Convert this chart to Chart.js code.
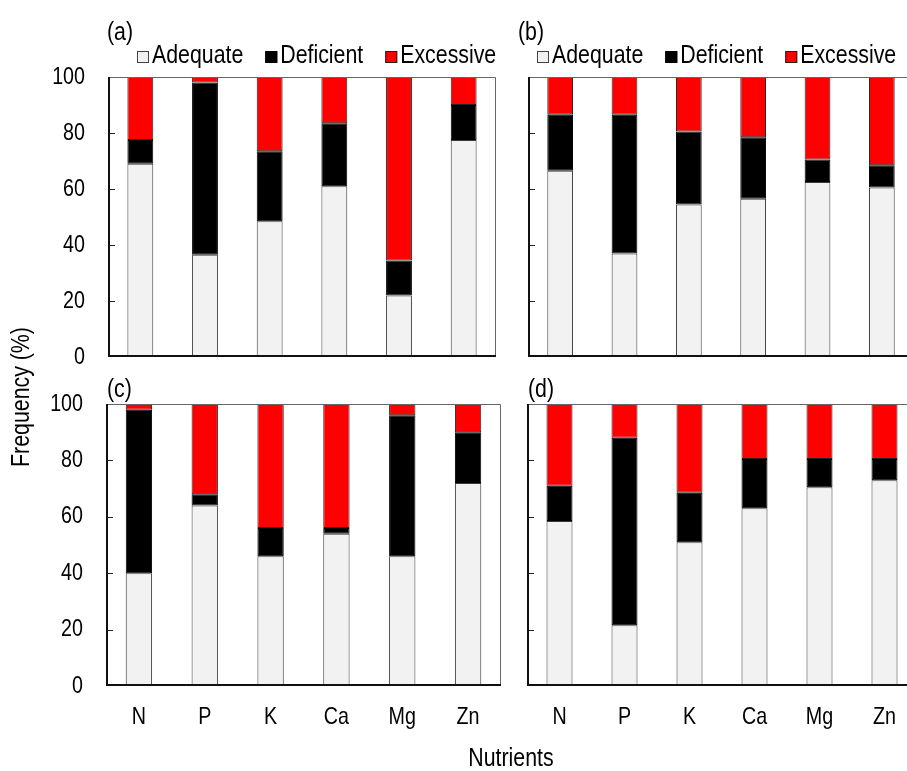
<!DOCTYPE html>
<html><head><meta charset="utf-8">
<script src="https://cdn.jsdelivr.net/npm/chart.js@4.4.1/dist/chart.umd.min.js"></script>
<style>
html,body{margin:0;padding:0;width:907px;height:771px;overflow:hidden;background:#fff;}
canvas{position:absolute;left:0;top:0;}
</style></head><body>
<canvas id="ca" width="940" height="771"></canvas>
<canvas id="cb" width="940" height="771"></canvas>
<canvas id="cc" width="940" height="771"></canvas>
<canvas id="cd" width="940" height="771"></canvas>
<script>
// ---- data ----
const nutrients = ['N', 'P', 'K', 'Ca', 'Mg', 'Zn'];
const seriesNames = ['Adequate', 'Deficient', 'Excessive'];
const yTicks = [0, 20, 40, 60, 80, 100];
const panelLabels = ['(a)', '(b)', '(c)', '(d)'];
const xTitle = 'Nutrients';
const yTitle = 'Frequency (%)';

const adequateA  = [69, 36.5, 48.5, 61, 22, 77.5];
const deficientA = [8.5, 61.5, 25, 22.5, 12.5, 12.5];
const excessiveA = [22.5, 2, 26.5, 16.5, 65.5, 10];

const adequateB  = [66.5, 37, 54.5, 56.5, 62.5, 60.5];
const deficientB = [20, 49.5, 26, 22, 8, 8];
const excessiveB = [13.5, 13.5, 19.5, 21.5, 29.5, 31.5];

const adequateC  = [40, 64, 46, 54, 46, 72];
const deficientC = [58, 4, 10, 2, 50, 18];
const excessiveC = [2, 32, 44, 44, 4, 10];

const adequateD  = [58.5, 21.5, 51, 63, 70.5, 73];
const deficientD = [12.5, 66.5, 17.5, 17.5, 10, 7.5];
const excessiveD = [29, 12, 31.5, 19.5, 19.5, 19.5];

// ---- style ----
const FONT = "'Liberation Sans', Arial, sans-serif";
const NARROW = 0.82;
Chart.defaults.font.family = FONT;
Chart.defaults.color = '#000';
const fills = ['#f2f2f2', '#000000', '#ff0000'];
const strokes = ['#3a3a3a', '#000000', '#222222'];
const W = 940, H = 771;

function txt(ctx, s, x, y, size, align, baseline, rot) {
  ctx.save();
  ctx.translate(x, y);
  if (rot) ctx.rotate(rot);
  ctx.scale(NARROW, 1);
  ctx.font = size + 'px ' + FONT;
  ctx.textAlign = align;
  ctx.textBaseline = baseline;
  ctx.fillStyle = '#000';
  ctx.fillText(s, 0, 0);
  ctx.restore();
}
function txtWidth(ctx, s, size) {
  ctx.save();
  ctx.font = size + 'px ' + FONT;
  const w = ctx.measureText(s).width * NARROW;
  ctx.restore();
  return w;
}

const decoPlugin = {
  id: 'panelDeco',
  afterDatasetsDraw(chart, args, opts) {
    const ctx = chart.ctx;
    const a = chart.chartArea;
    const ys = chart.scales.y;
    const xs = chart.scales.x;
    ctx.save();
    // inward tick marks
    ctx.strokeStyle = '#222';
    ctx.lineWidth = 1;
    yTicks.forEach(v => {
      if (v === 0 || v === 100) return;
      const py = Math.round(ys.getPixelForValue(v)) + 0.5;
      ctx.beginPath();
      ctx.moveTo(a.left, py);
      ctx.lineTo(a.left + 7, py);
      ctx.stroke();
    });
    // frame: top/right thin
    ctx.strokeStyle = '#666';
    ctx.lineWidth = 1;
    ctx.beginPath();
    ctx.moveTo(a.left, a.top + 0.5);
    ctx.lineTo(a.right - 0.5, a.top + 0.5);
    ctx.lineTo(a.right - 0.5, a.bottom);
    ctx.stroke();
    // left/bottom thick
    ctx.strokeStyle = '#111';
    ctx.lineWidth = 2;
    ctx.beginPath();
    ctx.moveTo(a.left + 1, a.top);
    ctx.lineTo(a.left + 1, a.bottom - 1);
    ctx.lineTo(a.right, a.bottom - 1);
    ctx.stroke();
    ctx.restore();

    // y tick labels
    if (opts.yLabels) {
      yTicks.forEach(v => {
        txt(ctx, String(v), a.left - 23, ys.getPixelForValue(v), 24, 'right', 'middle');
      });
    }
    // x tick labels
    if (opts.xLabels) {
      nutrients.forEach((n, i) => {
        txt(ctx, n, xs.getPixelForValue(i), 717, 24, 'center', 'middle');
      });
    }

    // panel label
    txt(ctx, opts.label, opts.labelX, opts.labelY, 26, 'left', 'alphabetic');

    // legend
    if (opts.legendX != null) {
      let x = opts.legendX;
      const base = opts.legendY;
      chart.data.datasets.forEach((ds, i) => {
        const bs = 12;
        ctx.save();
        ctx.fillStyle = ds.backgroundColor;
        ctx.fillRect(x, base - bs, bs, bs);
        ctx.strokeStyle = i === 0 ? '#444' : ds.borderColor;
        ctx.lineWidth = 1;
        ctx.strokeRect(x + 0.5, base - bs + 0.5, bs - 1, bs - 1);
        ctx.restore();
        x += bs + 3;
        txt(ctx, ds.label, x, base, 26, 'left', 'alphabetic');
        x += txtWidth(ctx, ds.label, 26) + 22;
      });
    }

    // shared axis titles
    if (opts.axisTitles) {
      txt(ctx, xTitle, 511, 759, 26, 'center', 'middle');
      txt(ctx, yTitle, 22, 397, 26, 'center', 'middle', -Math.PI / 2);
    }
  }
};

function makeChart(id, cfg) {
  const ds = [cfg.adequate, cfg.deficient, cfg.excessive].map((d, i) => ({
    label: seriesNames[i],
    data: d,
    backgroundColor: fills[i],
    borderColor: strokes[i],
    borderWidth: 1,
    borderSkipped: false
  }));
  return new Chart(document.getElementById(id), {
    type: 'bar',
    data: { labels: nutrients, datasets: ds },
    options: {
      responsive: false,
      animation: false,
      devicePixelRatio: 1,
      layout: { padding: { left: cfg.area[0], top: cfg.area[1], right: W - cfg.area[2], bottom: H - cfg.area[3] } },
      datasets: { bar: { categoryPercentage: 1, barPercentage: 0.4 } },
      plugins: {
        legend: { display: false },
        tooltip: { enabled: false },
        panelDeco: cfg.deco
      },
      scales: {
        x: {
          stacked: true,
          grid: { display: false, drawTicks: false },
          border: { display: false },
          ticks: { display: false },
          afterFit(s) { s.height = 0; }
        },
        y: {
          stacked: true,
          min: 0, max: 100,
          grid: { display: false, drawTicks: false },
          border: { display: false },
          ticks: { display: false, stepSize: 20 },
          afterFit(s) { s.width = 0; }
        }
      }
    },
    plugins: [decoPlugin]
  });
}

makeChart('ca', {
  adequate: adequateA, deficient: deficientA, excessive: excessiveA,
  area: [108, 77, 496, 357],
  deco: { yLabels: true, xLabels: false, label: panelLabels[0], labelX: 107, labelY: 40, legendX: 137, legendY: 63 }
});
makeChart('cb', {
  adequate: adequateB, deficient: deficientB, excessive: excessiveB,
  area: [528, 77, 914, 357],
  deco: { yLabels: false, xLabels: false, label: panelLabels[1], labelX: 518, labelY: 40, legendX: 537, legendY: 63 }
});
makeChart('cc', {
  adequate: adequateC, deficient: deficientC, excessive: excessiveC,
  area: [106, 404, 501, 686],
  deco: { yLabels: true, xLabels: true, label: panelLabels[2], labelX: 107, labelY: 397, axisTitles: true }
});
makeChart('cd', {
  adequate: adequateD, deficient: deficientD, excessive: excessiveD,
  area: [527, 404, 917, 686],
  deco: { yLabels: false, xLabels: true, label: panelLabels[3], labelX: 528, labelY: 397 }
});
</script>
</body></html>
